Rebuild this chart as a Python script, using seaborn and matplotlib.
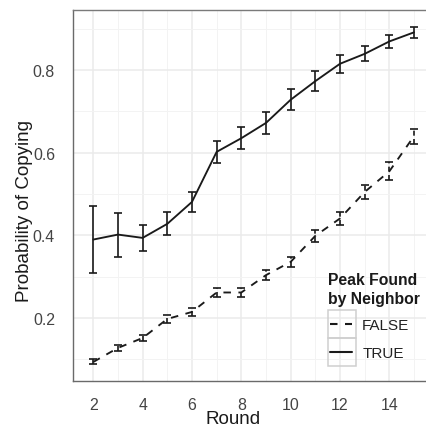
import numpy as np
import pandas as pd
import matplotlib
matplotlib.use("Agg")
import matplotlib.pyplot as plt
import seaborn as sns
from matplotlib.legend_handler import HandlerBase
from matplotlib.patches import Rectangle
from matplotlib.lines import Line2D
from matplotlib.ticker import MultipleLocator

# ---- data ----
rounds = [2, 3, 4, 5, 6, 7, 8, 9, 10, 11, 12, 13, 14, 15]
true_mean = [0.390, 0.402, 0.394, 0.428, 0.481, 0.602, 0.635, 0.672, 0.728, 0.773, 0.815, 0.839, 0.869, 0.891]
true_err = [0.080, 0.053, 0.032, 0.028, 0.025, 0.027, 0.027, 0.026, 0.025, 0.024, 0.022, 0.018, 0.016, 0.014]
false_mean = [0.094, 0.128, 0.152, 0.198, 0.215, 0.262, 0.262, 0.304, 0.336, 0.399, 0.441, 0.505, 0.555, 0.640]
false_err = [0.006, 0.007, 0.008, 0.009, 0.010, 0.011, 0.011, 0.012, 0.013, 0.014, 0.016, 0.018, 0.022, 0.018]
groups = ["FALSE", "TRUE"]
legend_title = "Peak Found\nby Neighbor"
x_label = "Round"
y_label = "Probability of Copying"
x_ticks = [2, 4, 6, 8, 10, 12, 14]
y_ticks = [0.2, 0.4, 0.6, 0.8]

df = pd.concat([
    pd.DataFrame({"Round": rounds, "Prob": false_mean, "Err": false_err, "Peak": "FALSE"}),
    pd.DataFrame({"Round": rounds, "Prob": true_mean, "Err": true_err, "Peak": "TRUE"}),
], ignore_index=True)

sns.set_theme(style="white")
plt.rcParams["font.family"] = ["Liberation Sans", "DejaVu Sans"]

INK = "#1a1a1a"
W, H, DPI = 426, 427, 100
fig = plt.figure(figsize=(W / DPI, H / DPI), dpi=DPI, facecolor="white")
# panel: left 73.3px, right ~434px (cropped off the canvas), top 11px, bottom 382px
AX_L, AX_R, AX_T, AX_B = 73.3, 434.0, 11.0, 382.0
ax = fig.add_axes([AX_L / W, (H - AX_B) / H, (AX_R - AX_L) / W, (AX_B - AX_T) / H])
ax.set_facecolor("white")

LW = 1.35
sns.lineplot(data=df, x="Round", y="Prob", style="Peak", style_order=groups,
             dashes={"FALSE": (4, 4), "TRUE": ""}, color=INK, linewidth=LW,
             errorbar=None, ax=ax, legend=True)

for g in groups:
    sub = df[df["Peak"] == g]
    eb = ax.errorbar(sub["Round"], sub["Prob"], yerr=sub["Err"], fmt="none",
                     ecolor=INK, elinewidth=1.2, capsize=2.6, capthick=1.2, zorder=3)
    if g == "FALSE":
        for coll in eb[2]:
            coll.set_linestyle((0, (3, 2)))

ax.set_xlim(1.19, 15.81)
ax.set_ylim(0.048, 0.945)
ax.set_xticks(x_ticks)
ax.set_yticks(y_ticks)
ax.xaxis.set_minor_locator(MultipleLocator(1))
ax.yaxis.set_minor_locator(MultipleLocator(0.1))
ax.grid(which="major", color="#ebebeb", linewidth=1.1)
ax.grid(which="minor", color="#f3f3f3", linewidth=0.7)
ax.set_axisbelow(True)
for s in ["left", "bottom", "top"]:
    ax.spines[s].set_visible(True)
    ax.spines[s].set_color("#7a7a7a")
    ax.spines[s].set_linewidth(1.0)
ax.spines["right"].set_visible(False)
ax.spines["left"].set_color("#6a6a6a")
ax.spines["bottom"].set_color("#6a6a6a")

ax.tick_params(axis="both", which="major", length=5.0, width=0.9, color="#555555",
               labelsize=11.4, labelcolor="#444444")
ax.tick_params(axis="x", which="major", pad=6.4)
ax.tick_params(axis="y", which="major", pad=8.2)
ax.tick_params(which="minor", length=0)
ax.set_yticklabels([f"{v:.1f}" for v in y_ticks])

ax.set_xlabel(x_label, fontsize=13.5, color=INK)
ax.set_ylabel(y_label, fontsize=13.5, color=INK)
ax.xaxis.set_label_coords((233.5 - AX_L) / (AX_R - AX_L), (AX_B - 428) / (AX_B - AX_T))
ax.xaxis.label.set_va("bottom")
ax.yaxis.set_label_coords((33 - AX_L) / (AX_R - AX_L), (AX_B - 210.5) / (AX_B - AX_T))

# ---- legend with boxed keys ----
old = ax.get_legend()
handles = list(old.legend_handles)
labels = [t.get_text() for t in old.get_texts()]
old.remove()


class BoxedLine(HandlerBase):
    def create_artists(self, legend, orig, xd, yd, w, h, fontsize, trans):
        x0, y0 = -xd, -yd
        rect = Rectangle((x0, y0), w, h, fill=False, edgecolor="#cfcfcf",
                         linewidth=1.1, transform=trans)
        ls = orig.get_linestyle()
        line = Line2D([x0 + 0.08 * w, x0 + 0.88 * w], [y0 + h / 2, y0 + h / 2],
                      color=INK, linewidth=1.5, transform=trans)
        if ls not in ("-", "solid"):
            line.set_dashes((3.6, 3.6))
        return [rect, line]


leg = fig.legend(handles, labels, title=legend_title, loc="upper left",
                 bbox_to_anchor=(327.7 / W, 1 - 273 / H), frameon=False,
                 fontsize=11, title_fontsize=11.3, handlelength=1.83,
                 handleheight=2.44, labelspacing=0, handletextpad=0.43,
                 borderpad=0, borderaxespad=0, alignment="left",
                 handler_map={h: BoxedLine() for h in handles})
leg.get_title().set_fontweight("bold")
leg.get_title().set_color(INK)
leg.get_title().set_linespacing(1.32)
leg._legend_box.sep = 3.0
for t in leg.get_texts():
    t.set_color("#222222")

fig.savefig("out.png", dpi=DPI, facecolor="white")
